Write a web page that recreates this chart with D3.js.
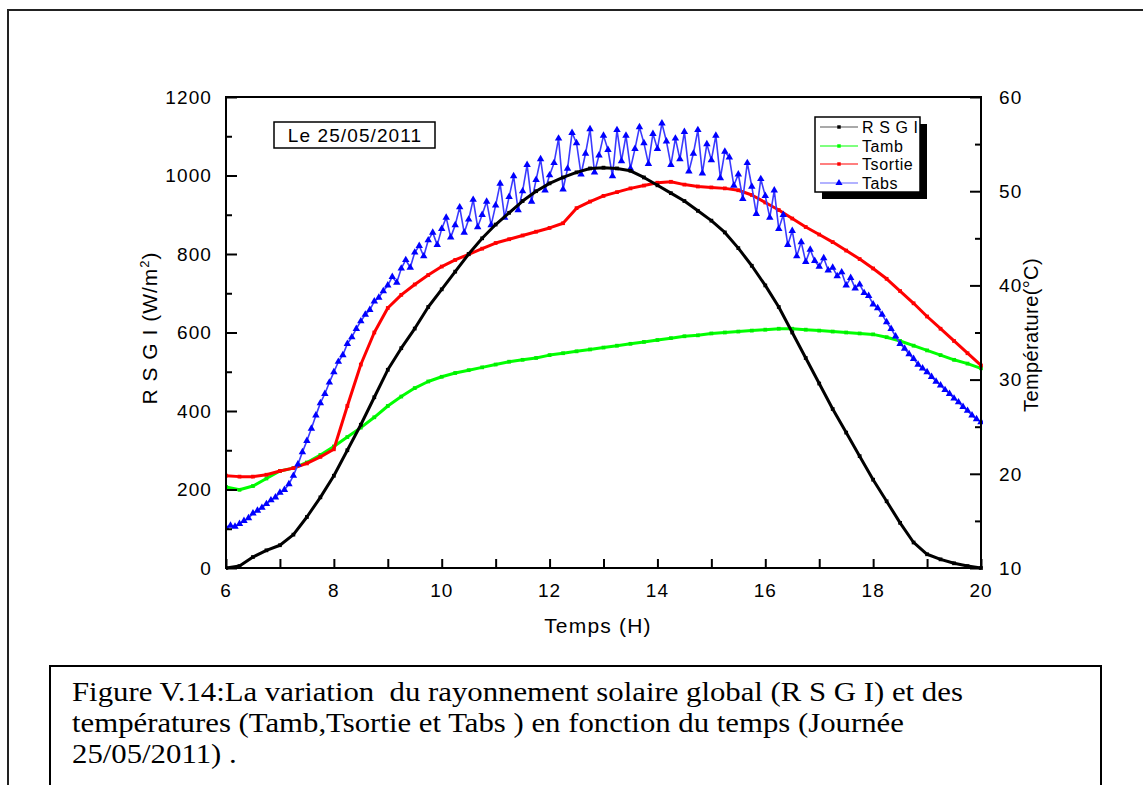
<!DOCTYPE html>
<html><head><meta charset="utf-8">
<script src="https://cdn.jsdelivr.net/npm/d3@7"></script>
<style>body{margin:0;background:#fff}svg{display:block}</style>
</head><body>
<svg id="c" width="1143" height="785"></svg>
<script>
// ---- data ----
// smooth series sampled every 15 min from 6:00 to 20:00
const rsgi = [0,5,28,45,58,85,130,180,235,300,365,435,505,560,610,665,710,755,800,840,875,905,935,960,980,995,1008,1018,1020,1018,1012,995,975,955,935,910,885,855,815,770,720,665,600,535,470,405,345,285,225,170,115,65,35,22,12,5,0];
const tamb = [18.6,18.3,18.7,19.5,20.3,20.6,21.2,22.0,22.9,23.9,24.9,26.0,27.2,28.2,29.1,29.8,30.3,30.7,31.0,31.3,31.6,31.9,32.1,32.3,32.6,32.8,33.0,33.2,33.4,33.6,33.8,34.0,34.2,34.4,34.6,34.7,34.9,35.0,35.1,35.2,35.3,35.4,35.4,35.3,35.2,35.1,35.0,34.9,34.8,34.5,34.1,33.6,33.1,32.6,32.1,31.7,31.2];
const tsortie = [19.8,19.7,19.7,19.9,20.3,20.6,21.1,21.8,22.6,27.2,31.6,35.0,37.6,39.0,40.1,41.1,42.0,42.7,43.3,43.9,44.5,44.9,45.3,45.7,46.1,46.6,48.2,48.9,49.5,49.9,50.3,50.6,50.9,51.0,50.7,50.5,50.4,50.3,50.1,49.6,48.8,48.0,47.1,46.2,45.4,44.6,43.7,42.8,41.8,40.7,39.4,38.1,36.7,35.4,34.1,32.8,31.5];
// Tabs sampled every 5 min from 6:00 to 20:00
const tabs = [
14.3,14.5,14.4,14.7,15.0,15.3,15.8,16.1,16.4,16.8,17.2,17.5,
18.0,18.3,18.9,19.8,21.0,22.3,23.5,24.8,26.2,27.5,28.5,29.7,
30.8,31.9,32.6,33.8,34.5,35.4,36.2,36.9,37.4,38.3,38.7,39.4,
40.0,40.9,40.3,41.8,42.7,41.9,43.5,44.2,43.1,44.8,45.6,44.3,
46.0,47.2,45.1,46.4,48.3,45.6,47.0,49.1,46.2,47.5,48.9,46.4,
48.5,50.8,47.2,49.4,51.6,48.0,50.0,52.8,48.9,51.2,53.4,50.1,
51.7,53.0,55.6,50.2,52.4,56.2,55.1,51.8,54.0,56.6,52.0,53.8,
55.9,54.4,51.6,56.5,53.2,55.9,52.4,54.5,56.8,55.1,52.9,56.1,
54.5,57.2,55.3,52.8,55.6,53.4,56.3,52.1,54.0,56.5,51.9,55.0,
53.3,55.9,51.4,54.2,53.6,50.6,51.8,49.2,53.0,50.5,47.6,51.3,
49.5,47.2,50.1,46.0,47.5,44.3,45.8,43.1,44.6,42.5,43.8,42.6,
42.0,42.9,41.6,41.9,41.0,41.4,40.0,40.8,39.7,40.1,39.2,38.9,
38.0,37.6,36.9,36.1,35.4,34.6,33.8,33.3,32.7,32.2,31.6,31.2,
30.8,30.3,29.8,29.4,28.9,28.5,28.0,27.6,27.1,26.7,26.2,25.8,
25.5];
const xTicks = [6,8,10,12,14,16,18,20];
const yLeftTicks = [0,200,400,600,800,1000,1200];
const yRightTicks = [10,20,30,40,50,60];
const legendNames = ["R S G I","Tamb","Tsortie","Tabs"];
const legendColors = ["#000000","#00ff00","#ff0000","#0000ff"];
const dateLabel = "Le 25/05/2011";
const captionLines = [
 "Figure V.14:La variation  du rayonnement solaire global (R S G I) et des",
 "températures (Tamb,Tsortie et Tabs ) en fonction du temps (Journée",
 "25/05/2011) ."
];

// ---- layout ----
const svg = d3.select("#c");
const L = 226, R = 981, T = 97, B = 568;
const x = d3.scaleLinear().domain([6,20]).range([L,R]);
const yL = d3.scaleLinear().domain([0,1200]).range([B,T]);
const yR = d3.scaleLinear().domain([10,60]).range([B,T]);
const font = "Arial, 'Liberation Sans', sans-serif";

// outer frame
svg.append("rect").attr("x",8).attr("y",10).attr("width",1200).attr("height",900)
  .attr("fill","none").attr("stroke","#222").attr("stroke-width",2);

const t15 = i => 6 + i*0.25;
const t5 = i => 6 + i/12;

svg.append("defs").append("clipPath").attr("id","pc")
  .append("rect").attr("x",L).attr("y",T-20).attr("width",R-L+2).attr("height",B-T+22);
const g = svg.append("g").attr("clip-path","url(#pc)");

function series(data, tf, yScale, color, lineColor, lw, marker, msize){
  const line = d3.line().x((d,i)=>x(tf(i))).y(d=>yScale(d));
  g.append("path").datum(data).attr("d",line).attr("fill","none")
    .attr("stroke",lineColor).attr("stroke-width",lw).attr("stroke-linejoin","round");
  const sym = d3.symbol().type(marker).size(msize);
  g.selectAll(null).data(data).enter().append("path")
    .attr("d",sym).attr("fill",color)
    .attr("transform",(d,i)=>`translate(${x(tf(i))},${yScale(d)})`);
}
series(tamb, t15, yR, "#00ee00", "#00ff00", 3, d3.symbolSquare, 14);
series(tsortie, t15, yR, "#ff0000", "#ff0000", 3, d3.symbolSquare, 14);
series(tabs, t5, yR, "#0000ff", "#3a3aff", 1.6, d3.symbolTriangle, 24);
series(rsgi, t15, yL, "#000000", "#000000", 3, d3.symbolSquare, 14);

// axes (D3 axis generators for tick marks)
const xAxis = d3.axisBottom(x).tickValues(d3.range(6,20.01,1)).tickSize(-9).tickFormat("");
const xg = svg.append("g").attr("transform",`translate(0,${B})`).call(xAxis);
const yLAxis = d3.axisLeft(yL).tickValues(d3.range(0,1201,100)).tickSize(0).tickFormat("");
const ylg = svg.append("g").attr("transform",`translate(${L},0)`).call(yLAxis);
const yRAxis = d3.axisRight(yR).tickValues(d3.range(10,60.01,5)).tickSize(0).tickFormat("");
const yrg = svg.append("g").attr("transform",`translate(${R},0)`).call(yRAxis);
[xg,ylg,yrg].forEach(a=>{a.select(".domain").remove();a.selectAll(".tick line").attr("stroke","#000").attr("stroke-width",2);});
ylg.selectAll(".tick line").attr("x2",d=>yLeftTicks.includes(d)?11:6);
yrg.selectAll(".tick line").attr("x2",d=>yRightTicks.includes(d)?-11:-6);

// tick labels
const tickFont = 19;
svg.append("g").selectAll("text").data(xTicks).enter().append("text")
  .attr("x",d=>x(d)).attr("y",597).attr("text-anchor","middle")
  .attr("font-family",font).attr("font-size",tickFont).style("letter-spacing","1px").text(d=>d);
svg.append("g").selectAll("text").data(yLeftTicks).enter().append("text")
  .attr("x",212).attr("y",d=>yL(d)).attr("dy","0.36em").attr("text-anchor","end")
  .attr("font-family",font).attr("font-size",tickFont).style("letter-spacing","1.1px").text(d=>d);
svg.append("g").selectAll("text").data(yRightTicks).enter().append("text")
  .attr("x",999).attr("y",d=>yR(d)).attr("dy","0.36em").attr("text-anchor","start")
  .attr("font-family",font).attr("font-size",tickFont).style("letter-spacing","1.1px").text(d=>d);

// frame
svg.append("rect").attr("x",L).attr("y",T).attr("width",R-L).attr("height",B-T)
  .attr("fill","none").attr("stroke","#000").attr("stroke-width",2);

// axis titles
svg.append("text").attr("x",598).attr("y",633).attr("text-anchor","middle")
  .attr("font-family",font).attr("font-size",21).style("letter-spacing","1.2px").text("Temps (H)");
const lt = svg.append("text").attr("transform","translate(157,328) rotate(-90)")
  .attr("text-anchor","middle").attr("font-family",font).attr("font-size",21).style("letter-spacing","1px");
lt.append("tspan").text("R S G I (W/m");
lt.append("tspan").attr("font-size",13).attr("dy",-8).text("2");
lt.append("tspan").attr("dy",8).text(")");
svg.append("text").attr("transform","translate(1038,335) rotate(-90)")
  .attr("text-anchor","middle").attr("font-family",font).attr("font-size",20).style("letter-spacing","0.4px")
  .text("Température(°C)");

// date box
svg.append("rect").attr("x",274).attr("y",122).attr("width",161).attr("height",26)
  .attr("fill","#fff").attr("stroke","#000").attr("stroke-width",1.5);
svg.append("text").attr("x",355).attr("y",142).attr("text-anchor","middle")
  .attr("font-family",font).attr("font-size",19).style("letter-spacing","1.1px").text(dateLabel);

// legend
svg.append("rect").attr("x",822).attr("y",124).attr("width",105).attr("height",75).attr("fill","#000");
svg.append("rect").attr("x",815).attr("y",117).attr("width",105).attr("height",75)
  .attr("fill","#fff").attr("stroke","#000").attr("stroke-width",1.5);
const lg = svg.append("g");
const rowsY = [127,146,164,183];
legendNames.forEach((n,i)=>{
  const yy = rowsY[i];
  lg.append("line").attr("x1",820).attr("x2",858).attr("y1",yy).attr("y2",yy)
    .attr("stroke", i===0?"#555":(i===3?"#6666ff":legendColors[i])).attr("stroke-width",1.2);
  lg.append("path").attr("d",d3.symbol().type(i===3?d3.symbolTriangle:d3.symbolSquare).size(i===3?22:12))
    .attr("fill",legendColors[i]).attr("transform",`translate(839,${yy})`);
  lg.append("text").attr("x",862).attr("y",yy+6).attr("font-family",font).attr("font-size",16)
    .style("letter-spacing","0.6px").text(n);
});

// caption box
svg.append("rect").attr("x",50).attr("y",666).attr("width",1051).attr("height",200)
  .attr("fill","none").attr("stroke","#000").attr("stroke-width",2);
captionLines.forEach((s,i)=>{
  svg.append("text").attr("transform",`translate(72,${701+i*31}) scale(1.14,1)`)
    .attr("x",0).attr("y",0).attr("xml:space","preserve").style("white-space","pre")
    .attr("font-family","'Liberation Serif','Times New Roman',serif").attr("font-size",27).text(s);
});
</script>
</body></html>
